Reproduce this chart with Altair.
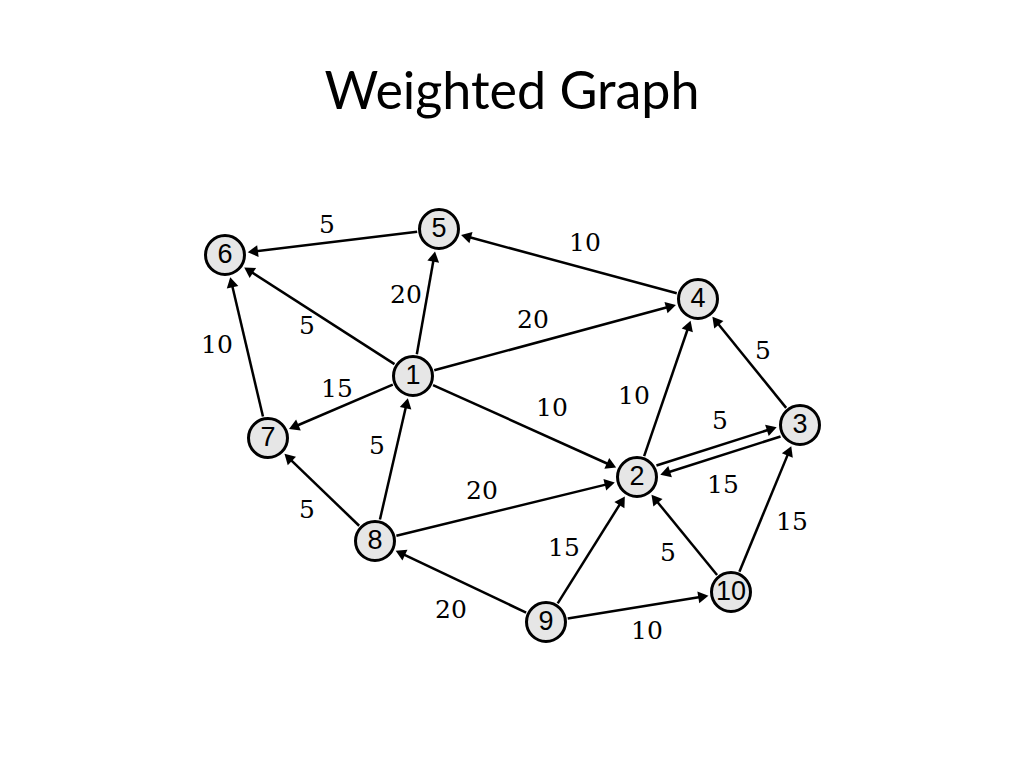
import numpy as np
import pandas as pd
import altair as alt

# node positions (pixel coords, y down)
node_ids = ["1", "2", "3", "4", "5", "6", "7", "8", "9", "10"]
node_x = [413, 637, 800, 698, 439, 225, 268, 375, 546, 731]
node_y = [376, 477, 425, 299, 229, 255, 438, 541, 622, 592]

# edges: source, target, weight, label position, parallel offset
edge_src = ["5", "4", "1", "1", "1", "1", "1", "7", "8", "8", "8", "2", "3", "2", "3", "9", "10", "10", "9", "9"]
edge_dst = ["6", "5", "5", "6", "4", "7", "2", "6", "1", "7", "2", "4", "4", "3", "2", "2", "2", "3", "8", "10"]
edge_w = [5, 10, 20, 5, 20, 15, 10, 10, 5, 5, 20, 10, 5, 5, 15, 15, 5, 15, 20, 10]
label_x = [327, 585, 406, 307, 533, 337, 552, 217, 377, 307, 482, 634, 763, 720, 723, 564, 668, 792, 451, 647]
label_y = [225, 243, 295, 326, 320, 389, 408, 345, 446, 510, 491, 396, 351, 421, 485, 548, 553, 522, 610, 631]
edge_off = [0, 0, 0, 0, 0, 0, 0, 0, 0, 0, 0, 0, 0, 5, 5, 0, 0, 0, 0, 0]

R = 22
pos = dict(zip(node_ids, zip(node_x, node_y)))
rows = []
for s, t, w, lx, ly, off in zip(edge_src, edge_dst, edge_w, label_x, label_y, edge_off):
    (x1, y1), (x2, y2) = pos[s], pos[t]
    dx, dy = x2 - x1, y2 - y1
    L = np.hypot(dx, dy)
    ux, uy = dx / L, dy / L
    nx, ny = uy, -ux
    ox, oy = off * nx, off * ny
    sx, sy = x1 + ux * R + ox, y1 + uy * R + oy
    hx, hy = x2 - ux * (R + 6) + ox, y2 - uy * (R + 6) + oy
    ang = np.degrees(np.arctan2(dx, -dy)) % 360
    rows.append(dict(x=sx, y=sy, x2=hx, y2=hy, ang=ang, w=str(w), lx=lx, ly=ly))
edges = pd.DataFrame(rows)
nodes = pd.DataFrame({"id": node_ids, "x": node_x, "y": node_y})

xs = alt.Scale(domain=[8, 1016])
ys = alt.Scale(domain=[140, 760], reverse=True)
X = lambda f: alt.X(f, scale=xs, axis=None)
Y = lambda f: alt.Y(f, scale=ys, axis=None)

lines = alt.Chart(edges).mark_rule(color="black", strokeWidth=2.5).encode(
    x=X("x:Q"), y=Y("y:Q"), x2="x2:Q", y2="y2:Q")
heads = alt.Chart(edges).mark_point(shape="triangle-up", filled=True, color="black",
                                   opacity=1, size=140).encode(
    x=X("x2:Q"), y=Y("y2:Q"), angle=alt.Angle("ang:Q", scale=None))
wlabels = alt.Chart(edges).mark_text(font="DejaVu Serif", fontSize=25, color="black").encode(
    x=X("lx:Q"), y=Y("ly:Q"), text="w:N")
circles = alt.Chart(nodes).mark_point(shape="circle", filled=True, fill="#e6e6e6",
                                     stroke="black", strokeWidth=3, opacity=1,
                                     size=1520).encode(x=X("x:Q"), y=Y("y:Q"))
nlabels = alt.Chart(nodes).mark_text(font="Liberation Sans", fontSize=27, color="black").encode(
    x=X("x:Q"), y=Y("y:Q"), text="id:N")

chart = (lines + heads + wlabels + circles + nlabels).properties(
    width=1008, height=620, autosize="none",
    padding={"top": 132, "left": 0, "right": 0, "bottom": 0},
    title=alt.TitleParams("Weighted Graph", fontSize=52, font="Lato", fontWeight="normal",
                          anchor="middle", offset=20, color="black"),
).configure_view(stroke=None)

chart.save("out.html", embed_options={"renderer": "svg", "actions": False})
